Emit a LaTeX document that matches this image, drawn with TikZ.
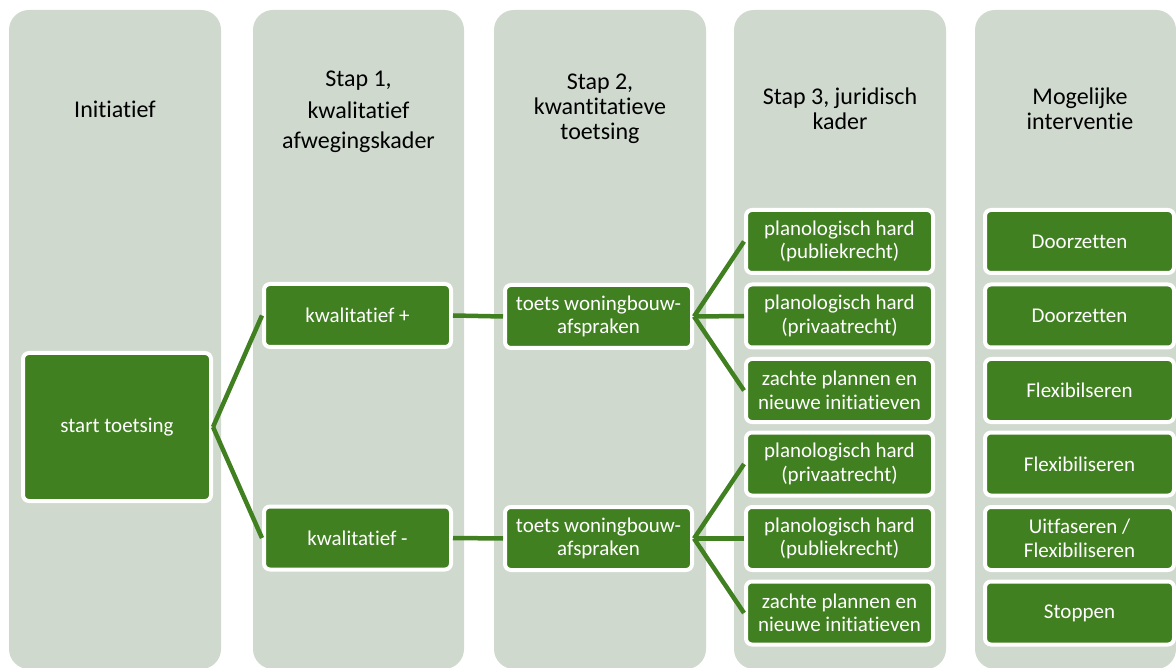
\documentclass[tikz,border=0pt]{standalone}
\usepackage{fontspec}
\setmainfont{Carlito}[Ligatures={NoCommon,NoRare,NoDiscretionary}]
\definecolor{colbg}{RGB}{207,217,206}
\definecolor{boxgreen}{RGB}{65,128,33}
\begin{document}
\begin{tikzpicture}[x=1pt,y=-1pt,
  colstyle/.style={fill=colbg, rounded corners=20pt},
  head/.style={font=\fontsize{24}{25}\selectfont, align=center, text=black, inner sep=0pt},
  gbox/.style={fill=boxgreen, draw=white, line width=4pt, rounded corners=6pt, text=white,
    font=\fontsize{21}{23.5}\selectfont, align=center, minimum width=187pt, minimum height=63pt, inner sep=0pt},
  link/.style={draw=boxgreen, line width=4.5pt}]
\useasboundingbox (0,0) rectangle (1176,668);
\clip (0,0) rectangle (1176,668);
% columns
\fill[colstyle] (9,10) rectangle (221,669);
\fill[colstyle] (253,10) rectangle (464,669);
\fill[colstyle] (494,10) rectangle (706,669);
\fill[colstyle] (734,10) rectangle (946,669);
\fill[colstyle] (975,10) rectangle (1176,669);
% headers
\node[head] (h1) at (115,109) {Initiatief};
\node[head, font=\fontsize{24}{29.5}\selectfont] (h2) at (358.5,111.5) {Stap 1,\\[3pt]kwalitatief\\afwegingskader};
\node[head] (h3) at (600,109) {Stap 2,\\kwantitatieve\\toetsing};
\node[head] (h4) at (840,109) {Stap 3, juridisch\\kader};
\node[head] (h5) at (1080,109) {Mogelijke\\interventie};
% boxes
\node[gbox, minimum width=188pt, minimum height=148pt] (start) at (117,427) {start toetsing};
\node[gbox] (kplus) at (357.5,315.5) {kwalitatief +};
\node[gbox] (kmin) at (357.5,538) {kwalitatief -};
\node[gbox] (tplus) at (598.5,316.5) {toets woningbouw-\\afspraken};
\node[gbox] (tmin) at (598.5,538.5) {toets woningbouw-\\afspraken};
\node[gbox] (j1) at (839.5,241.5) {planologisch hard\\(publiekrecht)};
\node[gbox] (j2) at (839.5,316) {planologisch hard\\(privaatrecht)};
\node[gbox] (j3) at (839.5,390.5) {zachte plannen en\\nieuwe initiatieven};
\node[gbox] (j4) at (839.5,464) {planologisch hard\\(privaatrecht)};
\node[gbox] (j5) at (839.5,538.5) {planologisch hard\\(publiekrecht)};
\node[gbox] (j6) at (839.5,613) {zachte plannen en\\nieuwe initiatieven};
\node[gbox, minimum width=189pt] (i1) at (1079.5,241.5) {Doorzetten};
\node[gbox, minimum width=189pt] (i2) at (1079.5,316) {Doorzetten};
\node[gbox, minimum width=189pt] (i3) at (1079.5,390.5) {Flexibilseren};
\node[gbox, minimum width=189pt] (i4) at (1079.5,464) {Flexibiliseren};
\node[gbox, minimum width=189pt] (i5) at (1079.5,538.5) {Uitfaseren /\\Flexibiliseren};
\node[gbox, minimum width=189pt] (i6) at (1079.5,613) {Stoppen};
% connectors
\draw[link] (start.east) -- (kplus.west);
\draw[link] (start.east) -- (kmin.west);
\draw[link] (kplus.east) -- (tplus.west);
\draw[link] (kmin.east) -- (tmin.west);
\draw[link] (tplus.east) -- (j1.west);
\draw[link] (tplus.east) -- (j2.west);
\draw[link] (tplus.east) -- (j3.west);
\draw[link] (tmin.east) -- (j4.west);
\draw[link] (tmin.east) -- (j5.west);
\draw[link] (tmin.east) -- (j6.west);
\end{tikzpicture}
\end{document}
